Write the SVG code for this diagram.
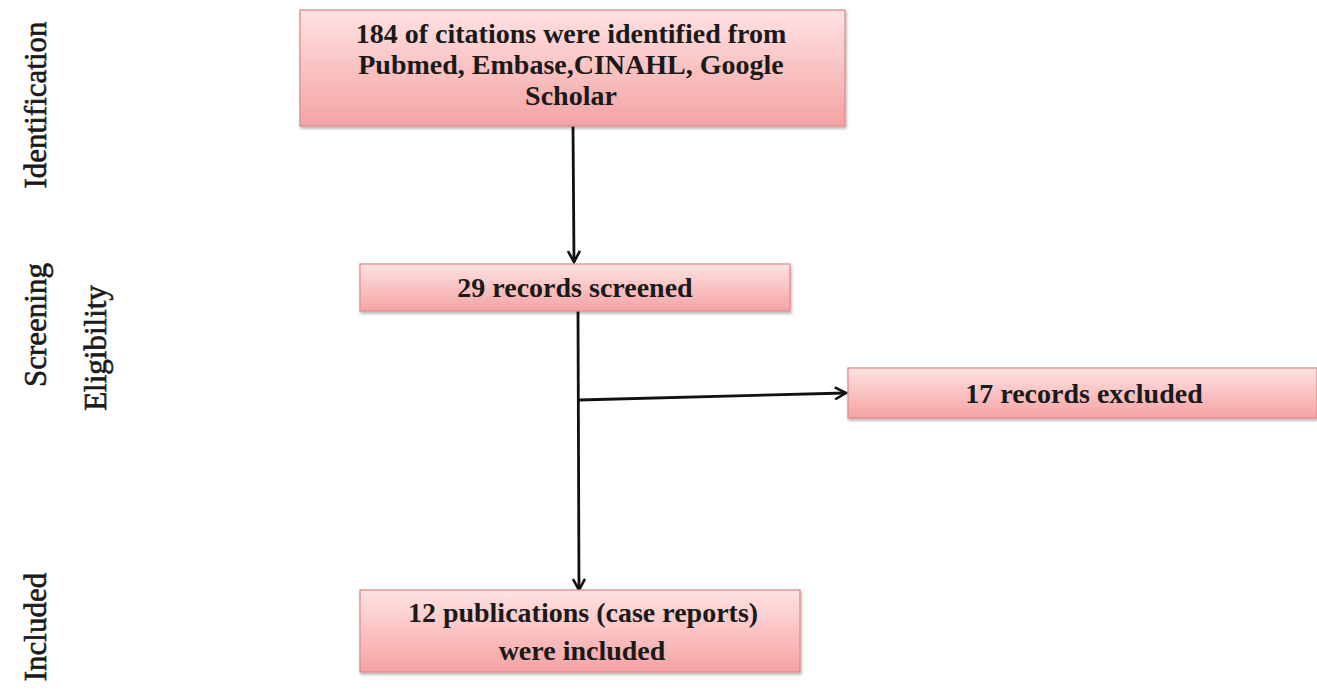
<svg xmlns="http://www.w3.org/2000/svg" width="1317" height="692" viewBox="0 0 1317 692">
<defs>
<linearGradient id="pink" x1="0" y1="0" x2="0" y2="1">
<stop offset="0" stop-color="#ffe2e2"/>
<stop offset="1" stop-color="#f4a3a3"/>
</linearGradient>
<filter id="sh" x="-5%" y="-10%" width="110%" height="130%">
<feDropShadow dx="1" dy="2" stdDeviation="1.5" flood-color="#000" flood-opacity="0.3"/>
</filter>
<marker id="arr" viewBox="0 0 14 14" refX="12" refY="7" markerWidth="14" markerHeight="14" markerUnits="userSpaceOnUse" orient="auto">
<path d="M1,1 L12,7 L1,13" fill="none" stroke="#111" stroke-width="2.6"/>
</marker>
</defs>
<style>
.box{fill:url(#pink);stroke:#e08c8c;stroke-width:1.3;filter:url(#sh)}
.t{font-family:"Liberation Serif","Times New Roman",serif;font-weight:bold;font-size:28px;fill:#1a1a1a;text-anchor:middle}
.side{font-family:"Liberation Serif","Times New Roman",serif;font-size:31px;fill:#1a1a1a;stroke:#1a1a1a;stroke-width:0.6;text-anchor:middle}
.c{fill:none;stroke:#111;stroke-width:2.8}
</style>
<rect width="1317" height="692" fill="#fff"/>
<g id="labels">
<text class="side" transform="translate(46,105) rotate(-90)">Identification</text>
<text class="side" transform="translate(46,325) rotate(-90)">Screening</text>
<text class="side" transform="translate(106,348) rotate(-90)">Eligibility</text>
<text class="side" transform="translate(46,627) rotate(-90)">Included</text>
</g>
<g id="connectors">
<line class="c" x1="573" y1="126" x2="574" y2="262" marker-end="url(#arr)"/>
<line class="c" x1="578" y1="311" x2="579" y2="590" marker-end="url(#arr)"/>
<line class="c" x1="579" y1="400" x2="846" y2="393" marker-end="url(#arr)"/>
</g>
<g id="n1">
<rect class="box" x="300" y="10" width="545" height="116"/>
<text class="t" x="571" y="43">184 of citations were identified from</text>
<text class="t" x="571" y="74">Pubmed, Embase,CINAHL, Google</text>
<text class="t" x="571" y="105">Scholar</text>
</g>
<g id="n2">
<rect class="box" x="360" y="264" width="430" height="47"/>
<text class="t" x="575" y="297">29 records screened</text>
</g>
<g id="n3">
<rect class="box" x="848" y="368" width="469" height="50"/>
<text class="t" x="1084" y="403">17 records excluded</text>
</g>
<g id="n4">
<rect class="box" x="360" y="590" width="440" height="82"/>
<text class="t" x="583" y="622">12 publications (case reports)</text>
<text class="t" x="582" y="660">were included</text>
</g>
</svg>
